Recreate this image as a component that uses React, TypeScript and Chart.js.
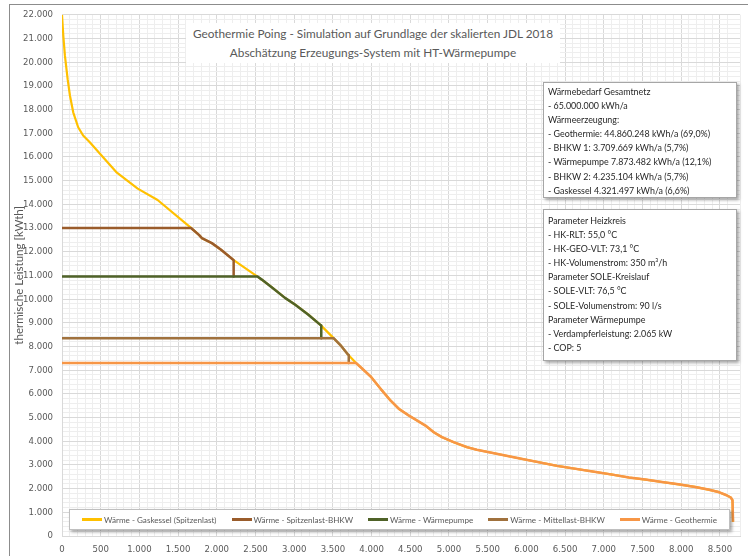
import React, { useEffect, useRef } from 'react';
import { Chart, registerables } from 'chart.js';

Chart.register(...registerables);

// ---------- data (hours of the year / thermal load in kW) ----------
const gaskesselHours = [0, 17, 38, 73, 103, 145, 209, 273, 359, 508, 701, 978, 1235, 1667, 1769, 1808, 1936, 2051, 2192, 2218, 2526, 2581, 2709, 2881, 3009, 3179, 3342, 3509, 3607, 3692, 3799, 3863, 3991, 4119, 4247, 4355, 4483, 4590, 4696, 4803, 4910, 5060, 5231, 5359, 5885, 6397, 6897, 7111, 7325, 7538, 7752, 7966, 8179, 8350, 8479, 8586, 8641, 8663, 8670];
const gaskesselKW = [22000, 21100, 20260, 19280, 18580, 17880, 17250, 16900, 16620, 16070, 15360, 14660, 14180, 13000, 12710, 12570, 12360, 12090, 11710, 11640, 10950, 10820, 10500, 10050, 9770, 9350, 8900, 8350, 8020, 7670, 7300, 7110, 6720, 6200, 5710, 5360, 5080, 4870, 4660, 4380, 4170, 3960, 3750, 3640, 3290, 2960, 2700, 2590, 2470, 2380, 2280, 2180, 2070, 1960, 1860, 1720, 1625, 1510, 600];

const spitzenBhkwHours = [0, 1667, 1769, 1808, 1936, 2051, 2192, 2218, 2218];
const spitzenBhkwKW = [13000, 13000, 12710, 12570, 12360, 12090, 11710, 11640, 10950];

const waermepumpeHours = [0, 2526, 2581, 2709, 2881, 3009, 3179, 3342, 3350, 3350];
const waermepumpeKW = [10950, 10950, 10820, 10500, 10050, 9770, 9350, 8900, 8880, 8350];

const mittelBhkwHours = [0, 3509, 3607, 3692, 3705, 3705];
const mittelBhkwKW = [8350, 8350, 8020, 7670, 7640, 7300];

const geothermieHours = [0, 3799, 3863, 3991, 4119, 4247, 4355, 4483, 4590, 4696, 4803, 4910, 5060, 5231, 5359, 5885, 6397, 6897, 7111, 7325, 7538, 7752, 7966, 8179, 8350, 8479, 8586, 8641, 8663, 8670];
const geothermieKW = [7300, 7300, 7110, 6720, 6200, 5710, 5360, 5080, 4870, 4660, 4380, 4170, 3960, 3750, 3640, 3290, 2960, 2700, 2590, 2470, 2380, 2280, 2180, 2070, 1960, 1860, 1720, 1625, 1510, 600];

const seriesLabels = [
  'Wärme - Gaskessel (Spitzenlast)',
  'Wärme - Spitzenlast-BHKW',
  'Wärme - Wärmepumpe',
  'Wärme - Mittellast-BHKW',
  'Wärme - Geothermie',
];
const seriesColors = ['#FFC000', '#9A5C2B', '#4F6228', '#A0713D', '#F79646'];
const seriesHours = [gaskesselHours, spitzenBhkwHours, waermepumpeHours, mittelBhkwHours, geothermieHours];
const seriesKW = [gaskesselKW, spitzenBhkwKW, waermepumpeKW, mittelBhkwKW, geothermieKW];

const xMin = 0;
const xMax = 8760;
const xMinorStep = 100;
const xLabelStep = 500;
const yMin = 0;
const yMax = 22000;
const yMinorStep = 200;
const yLabelStep = 1000;

const yAxisTitle = 'thermische Leistung [kWth]';
const titleLines = [
  'Geothermie Poing - Simulation auf Grundlage der skalierten JDL 2018',
  'Abschätzung Erzeugungs-System mit HT-Wärmepumpe',
];
const infoBox1Lines = [
  'Wärmebedarf Gesamtnetz',
  '-  65.000.000 kWh/a',
  'Wärmeerzeugung:',
  '-  Geothermie: 44.860.248 kWh/a (69,0%)',
  '-  BHKW 1: 3.709.669 kWh/a (5,7%)',
  '-  Wärmepumpe 7.873.482 kWh/a (12,1%)',
  '-  BHKW 2: 4.235.104 kWh/a (5,7%)',
  '-  Gaskessel 4.321.497 kWh/a (6,6%)',
];
const infoBox2Lines = [
  'Parameter Heizkreis',
  '-  HK-RLT: 55,0 °C',
  '-  HK-GEO-VLT: 73,1 °C',
  '-  HK-Volumenstrom: 350 m³/h',
  'Parameter SOLE-Kreislauf',
  '-  SOLE-VLT: 76,5 °C',
  '-  SOLE-Volumenstrom: 90 l/s',
  'Parameter Wärmepumpe',
  '-  Verdampferleistung: 2.065 kW',
  '-  COP: 5',
];

const fmtDe = (v: number) => String(Math.round(v)).replace(/\B(?=(\d{3})+(?!\d))/g, '.');

const tickFont = "'DejaVu Sans Condensed', 'DejaVu Sans', sans-serif";
const boxFont = "Lato, 'Open Sans', sans-serif";

const MAJOR_GRID = '#d9d9d9';
const MINOR_GRID = '#eeeeee';

export default function App() {
  const canvasRef = useRef<HTMLCanvasElement | null>(null);

  useEffect(() => {
    if (!canvasRef.current) return;
    const datasets = seriesLabels.map((label, i) => ({
      label,
      data: seriesHours[i].map((h, k) => ({ x: h, y: seriesKW[i][k] })),
      borderColor: seriesColors[i],
      backgroundColor: seriesColors[i],
      borderWidth: i === 0 ? 2.2 : 2.5,
      pointRadius: 0,
      fill: false,
      tension: 0,
      order: seriesLabels.length - i,
    }));

    const chart = new Chart(canvasRef.current, {
      type: 'line',
      data: { datasets },
      options: {
        animation: false,
        responsive: false,
        maintainAspectRatio: false,
        devicePixelRatio: 1,
        layout: { padding: { top: 12, right: 3, left: 0, bottom: 0 } },
        plugins: { legend: { display: false }, tooltip: { enabled: false }, title: { display: false } },
        elements: { line: { borderJoinStyle: 'round', borderCapStyle: 'butt' } },
        scales: {
          x: {
            type: 'linear',
            min: xMin,
            max: xMax,
            afterFit: (s: any) => { s.height = 20; },
            border: { color: MAJOR_GRID },
            grid: {
              drawTicks: false,
              color: (ctx: any) => (ctx.tick && ctx.tick.value % xLabelStep === 0 ? MAJOR_GRID : MINOR_GRID),
            },
            ticks: {
              stepSize: xMinorStep,
              autoSkip: false,
              maxRotation: 0,
              padding: 8,
              color: '#595959',
              font: { family: tickFont, size: 9.5 },
              callback: (v: any) => (Number(v) % xLabelStep === 0 ? fmtDe(Number(v)) : ''),
            },
          },
          y: {
            type: 'linear',
            min: yMin,
            max: yMax,
            afterFit: (s: any) => { s.width = 62; },
            border: { color: MAJOR_GRID },
            title: {
              display: true,
              text: yAxisTitle,
              color: '#595959',
              font: { family: boxFont, size: 11.5 },
              padding: { top: 12, bottom: 0 },
            },
            grid: {
              drawTicks: false,
              color: (ctx: any) => (ctx.tick && ctx.tick.value % yLabelStep === 0 ? MAJOR_GRID : MINOR_GRID),
            },
            ticks: {
              stepSize: yMinorStep,
              autoSkip: false,
              padding: 9,
              color: '#595959',
              font: { family: tickFont, size: 9.5 },
              callback: (v: any) => (Number(v) % yLabelStep === 0 ? fmtDe(Number(v)) : ''),
            },
          },
        },
      },
    } as any);
    return () => chart.destroy();
  }, []);

  const boxStyle: React.CSSProperties = {
    position: 'absolute',
    background: '#ffffff',
    border: '1px solid #a6a6a6',
    boxShadow: '2px 2px 3px rgba(0,0,0,0.35)',
    boxSizing: 'border-box',
    fontFamily: boxFont,
    fontSize: 8.9,
    color: '#262626',
    lineHeight: '14.1px',
    paddingLeft: 4,
    whiteSpace: 'nowrap',
  };

  return (
    <div style={{ position: 'absolute', left: 0, top: 0, width: 748, height: 556, background: '#ffffff', overflow: 'hidden' }}>
      <canvas ref={canvasRef} width={748} height={556} style={{ position: 'absolute', left: 0, top: 0, width: 748, height: 556 }} />
      {/* outer chart border */}
      <div style={{ position: 'absolute', left: 9, top: 4, width: 760, height: 600, borderLeft: '1px solid #8c8c8c', borderTop: '1px solid #8c8c8c' }} />
      {/* title */}
      <div style={{ position: 'absolute', left: 186, top: 23, width: 374, height: 40, background: '#ffffff', textAlign: 'center', fontFamily: boxFont, fontSize: 11.8, color: '#595959', lineHeight: '19px', paddingTop: 1, boxSizing: 'border-box', whiteSpace: 'nowrap' }}>
        {titleLines.map((t, i) => (<div key={i}>{t}</div>))}
      </div>
      {/* info box 1 */}
      <div style={{ ...boxStyle, left: 543, top: 82, width: 194, height: 116, paddingTop: 2 }}>
        {infoBox1Lines.map((t, i) => (<div key={i}>{t}</div>))}
      </div>
      {/* info box 2 */}
      <div style={{ ...boxStyle, left: 543, top: 209, width: 194, height: 152, paddingTop: 4 }}>
        {infoBox2Lines.map((t, i) => (<div key={i}>{t}</div>))}
      </div>
      {/* legend */}
      <div style={{ position: 'absolute', left: 69, top: 509, width: 661, height: 21, background: '#ffffff', border: '1px solid #bfbfbf', boxShadow: '2px 2px 3px rgba(0,0,0,0.35)', boxSizing: 'border-box', display: 'flex', alignItems: 'center', justifyContent: 'center', gap: 15, fontFamily: boxFont, fontSize: 8.1, color: '#595959', whiteSpace: 'nowrap' }}>
        {seriesLabels.map((l, i) => (
          <div key={i} style={{ display: 'flex', alignItems: 'center' }}>
            <span style={{ display: 'inline-block', width: 20, height: 3, background: seriesColors[i], marginRight: 2 }} />
            <span>{l}</span>
          </div>
        ))}
      </div>
    </div>
  );
}
